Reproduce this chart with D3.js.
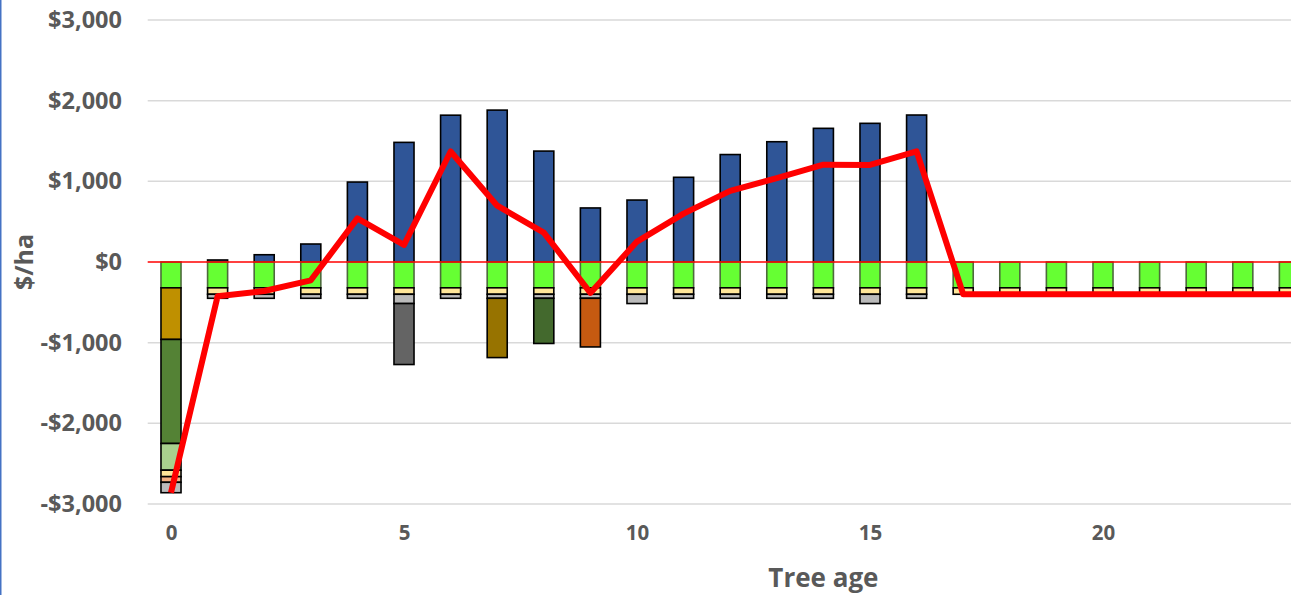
<!DOCTYPE html>
<html>
<head>
<meta charset="utf-8">
<script src="https://cdn.jsdelivr.net/npm/d3@7"></script>
<style>
  html, body { margin: 0; padding: 0; background: #fff; overflow: hidden; }
  svg { display: block; }
  text { font-family: "Open Sans", "DejaVu Sans", sans-serif; font-weight: 700; fill: #595959; }
</style>
</head>
<body>
<svg id="chart" width="1291" height="595"></svg>
<script>
// Tree age, years 0 to 28
const years = d3.range(0, 29);

// Revenue per hectare (positive)
const revenue = [0, 25, 90, 223, 991, 1483, 1820, 1883, 1375, 670, 768, 1050, 1332, 1491, 1657, 1719, 1822,
                 0, 0, 0, 0, 0, 0, 0, 0, 0, 0, 0, 0];

// Cost series per hectare (drawn below zero, in stacking order)
const weedControl   = years.map(() => 320);
const establishGold = [640].concat(Array(28).fill(0));
const establishSite = [1290].concat(Array(28).fill(0));
const establishPlant = [331].concat(Array(28).fill(0));
const fertiliser    = years.map(() => 80);
const establishMisc = [70].concat(Array(28).fill(0));
const monitoring    = [129, 50, 50, 50, 50, 115, 50, 50, 50, 50, 115, 50, 50, 50, 50, 115, 50,
                       0, 0, 0, 0, 0, 0, 0, 0, 0, 0, 0, 0];
const treatYear5    = years.map(y => (y === 5 ? 756 : 0));
const treatYear7    = years.map(y => (y === 7 ? 735 : 0));
const treatYear8    = years.map(y => (y === 8 ? 560 : 0));
const treatYear9    = years.map(y => (y === 9 ? 603 : 0));

const costSeries = [
  { values: weedControl,    fill: "#66FF33", stroke: "#4d6b3c" },
  { values: establishGold,  fill: "#BF9000", stroke: "#000" },
  { values: establishSite,  fill: "#548235", stroke: "#000" },
  { values: establishPlant, fill: "#A9D18E", stroke: "#000" },
  { values: fertiliser,     fill: "#FFE699", stroke: "#000" },
  { values: establishMisc,  fill: "#F4B183", stroke: "#000" },
  { values: monitoring,     fill: "#BBBBBB", stroke: "#000" },
  { values: treatYear5,     fill: "#646464", stroke: "#000" },
  { values: treatYear7,     fill: "#977300", stroke: "#000" },
  { values: treatYear8,     fill: "#43692D", stroke: "#000" },
  { values: treatYear9,     fill: "#C55A11", stroke: "#000" }
];

// Net cash flow = revenue minus all costs
const net = years.map((y, i) => revenue[i] - d3.sum(costSeries, s => s.values[i]));

const yTicks = [-3000, -2000, -1000, 0, 1000, 2000, 3000];
const xTicks = [0, 5, 10, 15, 20];

const svg = d3.select("#chart");

const x = d3.scaleBand()
  .domain(years)
  .range([147.7, 147.7 + 29 * 46.6])
  .paddingInner(0.57)
  .paddingOuter(0.285);

const y = d3.scaleLinear().domain([-3000, 3000]).range([504, 20]);

const plotLeft = x.range()[0], plotRight = x.range()[1];

// Gridlines
svg.append("g")
  .selectAll("line")
  .data(yTicks.filter(t => t !== 0))
  .join("line")
  .attr("x1", plotLeft).attr("x2", plotRight)
  .attr("y1", d => y(d)).attr("y2", d => y(d))
  .attr("stroke", "#D9D9D9").attr("stroke-width", 1.5);

// Y axis labels
const yAxis = d3.axisLeft(y).tickValues(yTicks).tickSize(0).tickPadding(0)
  .tickFormat(d => (d < 0 ? "-$" : "$") + d3.format(",")(Math.abs(d)));
svg.append("g")
  .attr("transform", "translate(122,0)")
  .call(yAxis)
  .call(g => g.select(".domain").remove())
  .call(g => g.selectAll("text")
    .attr("font-size", 23.5).attr("fill", "#595959")
    .attr("font-family", "'Open Sans', sans-serif").attr("font-weight", 700));

// X axis labels
const xPos = d3.scaleLinear().domain([0, 1]).range([x(0) + x.bandwidth() / 2, x(1) + x.bandwidth() / 2]);
const xAxis = d3.axisBottom(xPos).tickValues(xTicks).tickSize(0).tickPadding(0).tickFormat(d3.format("d"));
svg.append("g")
  .attr("transform", "translate(0,525)")
  .call(xAxis)
  .call(g => g.select(".domain").remove())
  .call(g => g.selectAll("text")
    .attr("font-size", 20.5).attr("fill", "#595959")
    .attr("font-family", "'Open Sans', sans-serif").attr("font-weight", 700));

// Revenue bars
svg.append("g")
  .selectAll("rect")
  .data(years.filter(i => revenue[i] > 0))
  .join("rect")
  .attr("x", i => x(i))
  .attr("width", x.bandwidth())
  .attr("y", i => y(revenue[i]))
  .attr("height", i => y(0) - y(revenue[i]))
  .attr("fill", "#2F5597")
  .attr("stroke", "#000").attr("stroke-width", 1.6);

// Cost stacks below zero
const stackedBase = years.map(() => 0);
costSeries.forEach(s => {
  const g = svg.append("g");
  years.forEach(i => {
    const v = s.values[i];
    if (v <= 0) return;
    const top = stackedBase[i];
    const bottom = top - v;
    stackedBase[i] = bottom;
    g.append("rect")
      .attr("x", x(i))
      .attr("width", x.bandwidth())
      .attr("y", y(top))
      .attr("height", y(bottom) - y(top))
      .attr("fill", s.fill)
      .attr("stroke", s.stroke)
      .attr("stroke-width", 1.6);
  });
});

// Zero line
svg.append("line")
  .attr("x1", plotLeft).attr("x2", plotRight)
  .attr("y1", y(0)).attr("y2", y(0))
  .attr("stroke", "#FF0000").attr("stroke-width", 1.5);

// Net cash flow line
const line = d3.line()
  .x(i => x(i) + x.bandwidth() / 2)
  .y(i => y(net[i]));
svg.append("path")
  .datum(years)
  .attr("d", line)
  .attr("fill", "none")
  .attr("stroke", "#FF0000")
  .attr("stroke-width", 6)
  .attr("stroke-linejoin", "round");

// Axis titles
svg.append("text")
  .attr("x", (plotLeft + plotRight) / 2)
  .attr("y", 587)
  .attr("text-anchor", "middle")
  .attr("font-size", 26)
  .text("Tree age");

svg.append("text")
  .attr("transform", `translate(33,${y(0)}) rotate(-90)`)
  .attr("text-anchor", "middle")
  .attr("font-size", 25)
  .text("$/ha");

// Left frame edge
svg.append("line")
  .attr("x1", 0.75).attr("x2", 0.75)
  .attr("y1", 0).attr("y2", 595)
  .attr("stroke", "#4472C4").attr("stroke-width", 1.5);
</script>
</body>
</html>
